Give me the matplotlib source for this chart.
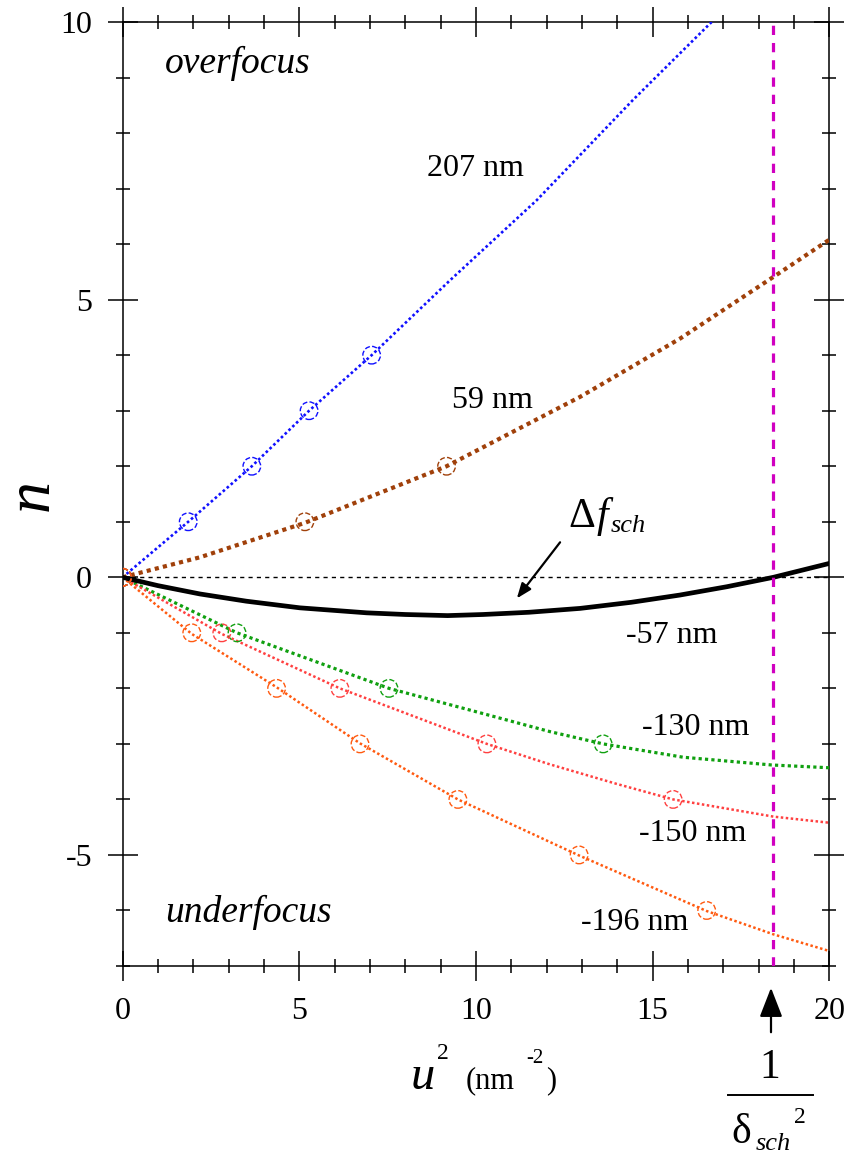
import matplotlib
matplotlib.use("Agg")
import matplotlib.pyplot as plt
from matplotlib.lines import Line2D
from matplotlib.ticker import MultipleLocator

plt.rcParams['font.family'] = ['Liberation Serif', 'DejaVu Serif']
plt.rcParams['axes.unicode_minus'] = False

# ---------------- data ----------------
u2_207 = [0, 1.86, 3.66, 5.28, 7.05, 9.27, 11.72, 14.45, 16.67]
n_207 = [0, 1, 2, 3, 4, 5.35, 6.79, 8.6, 10]
mk_u2_207 = [0, 1.86, 3.66, 5.28, 7.05]
mk_n_207 = [0, 1, 2, 3, 4]

u2_59 = [0, 2.19, 5.16, 9.17, 12.95, 15.78, 18.42, 20]
n_59 = [0, 0.36, 0.98, 2.0, 3.25, 4.30, 5.41, 6.08]
mk_u2_59 = [0, 5.16, 9.17]
mk_n_59 = [0, 1, 2]

u2_m57 = [0, 1.0, 2.19, 3.5, 5.02, 6.91, 8.0, 9.2, 10.2, 11.5, 12.95, 14.4, 15.77, 17.1, 18.42, 20]
n_m57 = [0, -0.15, -0.30, -0.43, -0.55, -0.64, -0.67, -0.69, -0.67, -0.63, -0.56, -0.45, -0.32, -0.17, 0.0, 0.25]

u2_m130 = [0, 3.24, 7.54, 10.0, 12.1, 13.6, 15.86, 18.37, 20]
n_m130 = [0, -1.0, -2.0, -2.42, -2.78, -3.0, -3.24, -3.38, -3.43]
mk_u2_m130 = [0, 3.24, 7.54, 13.6]
mk_n_m130 = [0, -1, -2, -3]

u2_m150 = [0, 2.81, 6.15, 10.31, 12.1, 13.98, 15.58, 18.42, 20]
n_m150 = [0, -1.02, -2.0, -3.0, -3.37, -3.72, -4.0, -4.31, -4.42]
mk_u2_m150 = [0, 2.81, 6.15, 10.31, 15.58]
mk_n_m150 = [0, -1, -2, -3, -4]

u2_m196 = [0, 1.96, 4.36, 6.72, 9.49, 12.92, 16.53, 18.42, 20]
n_m196 = [0, -1.02, -1.98, -2.99, -4.0, -5.01, -6.01, -6.43, -6.73]
mk_u2_m196 = [0, 1.96, 4.36, 6.72, 9.49, 12.92, 16.53]
mk_n_m196 = [0, -1, -2, -3, -4, -5, -6]

u2_scherzer_limit = 18.42

curve_labels = ['207 nm', '59 nm', '-57 nm', '-130 nm', '-150 nm', '-196 nm']
x_ticks = [0, 5, 10, 15, 20]
y_ticks = [-5, 0, 5, 10]

# ---------------- figure ----------------
W, H = 857, 1155
fig = plt.figure(figsize=(W / 100, H / 100), dpi=100)
ax = fig.add_axes([122.5 / W, 1 - 966 / H, (829.3 - 122.5) / W, (966 - 22) / H])

ax.set_xlim(0, 20)
ax.set_ylim(-7, 10)

def px(x, y):
    return (x / W, 1 - y / H)

# reference lines
ax.axhline(0, color='black', lw=1.0, dashes=(3, 3), zorder=1)
ax.axvline(u2_scherzer_limit, color='#D000C0', lw=2.3, dashes=(2.9, 2.5), zorder=5)

# curves
ax.plot(u2_207, n_207, color='#1010FF', lw=1.9, dashes=(1, 1), zorder=3)
ax.plot(u2_59, n_59, color='#A0400A', lw=3.0, dashes=(1, 1), zorder=3)
ax.plot(u2_m57, n_m57, color='black', lw=3.4, zorder=4)
ax.plot(u2_m130, n_m130, color='#10A010', lw=2.3, dashes=(1, 1), zorder=3)
ax.plot(u2_m150, n_m150, color='#FF4040', lw=1.8, dashes=(1, 1), zorder=3)
ax.plot(u2_m196, n_m196, color='#FF5A10', lw=1.8, dashes=(1, 1), zorder=3)

# open dashed circle markers
mk = dict(s=160, facecolors='none', linewidths=1.0, linestyles='--', zorder=6)
ax.scatter(mk_u2_207, mk_n_207, edgecolors='#1010FF', **mk)
ax.scatter(mk_u2_59, mk_n_59, edgecolors='#A0400A', **mk)
ax.scatter(mk_u2_m130, mk_n_m130, edgecolors='#10A010', **mk)
ax.scatter(mk_u2_m150, mk_n_m150, edgecolors='#FF4040', **mk)
ax.scatter(mk_u2_m196, mk_n_m196, edgecolors='#FF5A10', **mk)

# axes styling
for sp in ax.spines.values():
    sp.set_linewidth(1.1)
ax.set_xticks(x_ticks)
ax.set_yticks(y_ticks)
ax.xaxis.set_minor_locator(MultipleLocator(1))
ax.yaxis.set_minor_locator(MultipleLocator(1))
ax.tick_params(which='both', direction='inout', top=True, right=True,
               labeltop=False, labelright=False, width=1.1, colors='black')
ax.tick_params(which='major', length=21.6, labelsize=23)
ax.tick_params(which='minor', length=10)
ax.tick_params(axis='x', which='major', pad=11.5)
ax.tick_params(axis='y', which='major', pad=11)

# curve labels
fs_lab = 23
label_pos = [(10.0, 7.37), (10.46, 3.19), (15.55, -1.05), (16.23, -2.71), (16.14, -4.62), (14.5, -6.22)]
for txt, (xx, yy) in zip(curve_labels, label_pos):
    ax.text(xx, yy, txt, fontsize=fs_lab, ha='center', va='center', zorder=7)

ax.text(1.2, 9.08, 'overfocus', fontsize=27, style='italic', ha='left', va='baseline')
ax.text(1.2, -6.21, 'underfocus', fontsize=27, style='italic', ha='left', va='baseline')

# Delta f_sch annotation
ax.annotate('', xy=(11.11, -0.42), xytext=(12.43, 0.67),
            arrowprops=dict(arrowstyle='-|>,head_length=0.9,head_width=0.35', color='black', lw=1.6))
fig.text(*px(568, 527), 'Δ', fontsize=30, ha='left', va='baseline')
fig.text(*px(597, 527), 'f', fontsize=30, style='italic', ha='left', va='baseline')
fig.text(*px(611, 532), 'sch', fontsize=19, style='italic', ha='left', va='baseline')

# y label
fig.text(*px(33, 495), 'n', fontsize=46, style='italic', rotation=90, ha='center', va='center')

# x label
fig.text(*px(411, 1089), 'u', fontsize=35, style='italic', ha='left', va='baseline')
fig.text(*px(437, 1059), '2', fontsize=17, ha='left', va='baseline')
fig.text(*px(466, 1088), '(nm', fontsize=22, ha='left', va='baseline')
fig.text(*px(526, 1063), '-2', fontsize=15, ha='left', va='baseline')
fig.text(*px(546, 1088), ')', fontsize=22, ha='left', va='baseline')

# bottom arrow and 1/delta_sch^2
fig.add_artist(matplotlib.patches.FancyArrowPatch(
    px(771, 1035), px(771, 985), transform=fig.transFigure,
    arrowstyle='-|>,head_length=0.9,head_width=0.35', color='black', lw=1.6, mutation_scale=20))
fig.text(*px(770, 1078), '1', fontsize=30, ha='center', va='baseline')
fig.add_artist(Line2D([728 / W, 813 / W], [1 - 1095 / H, 1 - 1095 / H], color='black', lw=1.4,
                      transform=fig.transFigure))
fig.text(*px(731, 1143), 'δ', fontsize=30, ha='left', va='baseline')
fig.text(*px(756, 1150), 'sch', fontsize=19, style='italic', ha='left', va='baseline')
fig.text(*px(794, 1123), '2', fontsize=17, ha='left', va='baseline')

fig.savefig('out.png', dpi=100)
